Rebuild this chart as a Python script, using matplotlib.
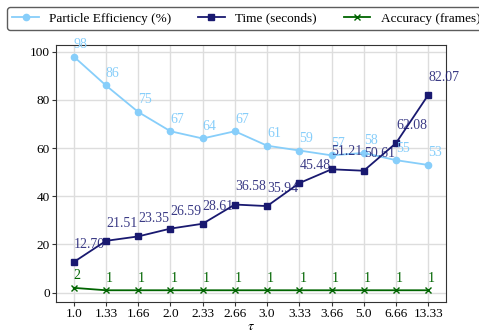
import matplotlib.pyplot as plt

plt.rcParams['font.family'] = ['Liberation Serif', 'DejaVu Serif']
plt.rcParams['mathtext.fontset'] = 'stix'

tau_labels = ['1.0', '1.33', '1.66', '2.0', '2.33', '2.66', '3.0', '3.33', '3.66', '5.0', '6.66', '13.33']
efficiency = [98, 86, 75, 67, 64, 67, 61, 59, 57, 58, 55, 53]
time_sec = [12.70, 21.51, 23.35, 26.59, 28.61, 36.58, 35.94, 45.48, 51.21, 50.61, 62.08, 82.07]
accuracy = [2, 1, 1, 1, 1, 1, 1, 1, 1, 1, 1, 1]

fig = plt.figure(figsize=(4.79, 3.30), dpi=100)
ax = fig.add_axes([0.117, 0.085, 0.814, 0.779])
x = list(range(len(tau_labels)))

ax.plot(x, efficiency, color='lightskyblue', marker='o', markersize=4.5, linewidth=1.3,
        label='Particle Efficiency (%)')
ax.plot(x, time_sec, color='midnightblue', marker='s', markersize=4.5, linewidth=1.3,
        label='Time (seconds)')
ax.plot(x, accuracy, color='darkgreen', marker='x', markersize=4, linewidth=1.3,
        label='Accuracy (frames)')

for i in x:
    ax.annotate(f'{efficiency[i]}', (i, efficiency[i]), xytext=(0, 4), textcoords='offset points',
                color='lightskyblue', fontsize=10, ha='left', va='bottom')
    ax.annotate(f'{time_sec[i]:.2f}', (i, time_sec[i]), xytext=(0, 8), textcoords='offset points',
                color='midnightblue', alpha=0.85, fontsize=10, ha='left', va='bottom')
    ax.annotate(f'{accuracy[i]}', (i, accuracy[i]), xytext=(0, 4), textcoords='offset points',
                color='darkgreen', fontsize=10, ha='left', va='bottom')

ax.set_xticks(x)
ax.set_xticklabels(tau_labels)
ax.tick_params(labelsize=9.5, length=3, pad=1.5, color='#333333')
ax.set_xlabel(r'$\tau$', fontsize=10, labelpad=0)
ax.grid(True, color='#dddddd', linewidth=1)
ax.set_axisbelow(True)
for s in ax.spines.values():
    s.set_color('#333333')

fig.legend(loc='upper left', bbox_to_anchor=(7 / 479, 1 - 7 / 330), borderaxespad=0,
           ncol=3, fontsize=9.55, frameon=True, edgecolor='#333333', fancybox=True)

fig.savefig('out.png', dpi=100)
